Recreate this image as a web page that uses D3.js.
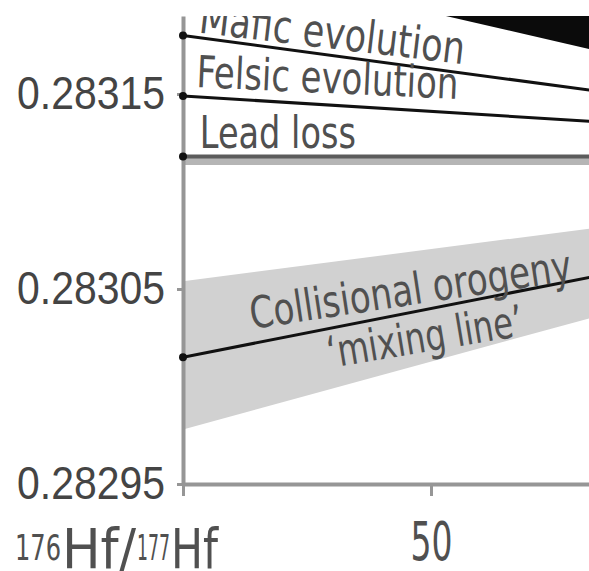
<!DOCTYPE html>
<html lang="en">
<head>
<meta charset="utf-8">
<title>Hf evolution</title>
<script src="https://d3js.org/d3.v7.min.js"></script>
<style>
  body { margin: 0; background: #fff; }
  svg { display: block; }
  .lbl { font-family: "Liberation Sans Narrow", "DejaVu Sans Condensed", "Liberation Sans", sans-serif; fill: #505050; }
</style>
</head>
<body>
<div id="chart"></div>
<script>
// ages (Ma) at the two ends of each trend
var ages = [0, 82];
var maficEvolution = [0.283180, 0.283152];
var felsicEvolution = [0.283149, 0.283136];
var leadLoss = [0.283118, 0.283118];
var mixingLine = [0.283015, 0.283056];
var mixingBandTop = [0.283054, 0.283081];
var mixingBandBottom = [0.282978, 0.283035];
// steep trend cut by the top of the frame
var steepAges = [53, 82];
var steepLower = [0.28319, 0.283173];

var xTicks = [0, 50];
var xTickLabels = ["", "50"];
var yTicks = [0.28295, 0.28305, 0.28315];
var yTickLabels = ["0.28295", "0.28305", "0.28315"];

var margin = {top: 16, right: 0, bottom: 87, left: 183},
    width = 589 - margin.left - margin.right,
    height = 571 - margin.top - margin.bottom;

var svg = d3.select("#chart")
  .append("svg")
    .attr("width", 589)
    .attr("height", 571)
  .append("g")
    .attr("transform", "translate(" + margin.left + "," + margin.top + ")");

var x = d3.scaleLinear().domain([0, 81.85]).range([0, width]);
var y = d3.scaleLinear().domain([0.28295, 0.28319]).range([height, 0]);

svg.append("clipPath").attr("id", "plot")
  .append("rect").attr("x", 0).attr("y", 0).attr("width", width).attr("height", height);

var plot = svg.append("g").attr("clip-path", "url(#plot)");

function pts(vals, xs) {
  xs = xs || ages;
  return vals.map(function(v, i) { return [xs[i], v]; });
}
var line = d3.line().x(function(d) { return x(d[0]); }).y(function(d) { return y(d[1]); });

// grey uncertainty band of the mixing line
plot.append("path")
  .datum(ages.map(function(a, i) { return {a: a, lo: mixingBandBottom[i], hi: mixingBandTop[i]}; }))
  .attr("d", d3.area()
    .x(function(d) { return x(d.a); })
    .y0(function(d) { return y(d.lo); })
    .y1(function(d) { return y(d.hi); }))
  .attr("fill", "#d1d1d1");

// black wedge top right
plot.append("path")
  .datum(steepAges.map(function(a, i) { return {a: a, lo: steepLower[i]}; }))
  .attr("d", d3.area()
    .x(function(d) { return x(d.a); })
    .y0(function(d) { return y(d.lo); })
    .y1(function(d) { return y(0.2832); }))
  .attr("fill", "#0b0b0b");

// lead loss: dark line with a lighter shadow underneath
plot.append("path").datum(pts(leadLoss)).attr("d", line)
  .attr("transform", "translate(0,5)")
  .attr("fill", "none").attr("stroke", "#b5b5b5").attr("stroke-width", 7);
plot.append("path").datum(pts(leadLoss)).attr("d", line)
  .attr("fill", "none").attr("stroke", "#5c5c5c").attr("stroke-width", 4);

[maficEvolution, felsicEvolution, mixingLine].forEach(function(s) {
  plot.append("path").datum(pts(s)).attr("d", line)
    .attr("fill", "none").attr("stroke", "#111").attr("stroke-width", 3);
});

// labels
function label(txt, a, v, angle, len, size) {
  plot.append("text").attr("class", "lbl")
    .attr("transform", "translate(" + x(a) + "," + y(v) + ") rotate(" + angle + ")")
    .attr("font-size", size)
    .attr("textLength", len)
    .attr("lengthAdjust", "spacingAndGlyphs")
    .text(txt);
}
label("Mafic evolution", 3.0, 0.2831815, 6.8, 267, 45);
label("Felsic evolution", 2.6, 0.2831536, 2.6, 262, 44);
label("Lead loss", 3.4, 0.2831223, 0, 156, 44);
label("Collisional orogeny", 13.9, 0.2830295, -8.6, 325, 44);
label("\u2018mixing line\u2019", 29.6, 0.2830095, -9.5, 198, 44);

// Y axis
var yAxis = svg.append("g")
  .call(d3.axisLeft(y).tickValues(yTicks).tickSize(6).tickSizeOuter(0).tickPadding(12)
    .tickFormat(function(d, i) { return yTickLabels[i]; }));
yAxis.select(".domain").attr("stroke", "#969696").attr("stroke-width", 4);
yAxis.selectAll(".tick line").attr("stroke", "#969696").attr("stroke-width", 3);
yAxis.selectAll(".tick text")
  .attr("font-family", "'Liberation Sans', Arial, sans-serif")
  .attr("font-size", 46)
  .attr("fill", "#444")
  .attr("textLength", 148)
  .attr("lengthAdjust", "spacingAndGlyphs");

// X axis
var xAxis = svg.append("g")
  .attr("transform", "translate(0," + height + ")")
  .call(d3.axisBottom(x).tickValues(xTicks).tickSize(12).tickSizeOuter(0).tickPadding(26)
    .tickFormat(function(d, i) { return xTickLabels[i]; }));
xAxis.select(".domain").attr("stroke", "#969696").attr("stroke-width", 4);
xAxis.selectAll(".tick line").attr("stroke", "#969696").attr("stroke-width", 3);
xAxis.selectAll(".tick text")
  .attr("class", "lbl")
  .attr("font-size", 54)
  .attr("fill", "#444")
  .attr("textLength", function(d, i) { return xTickLabels[i] ? 42 : null; })
  .attr("lengthAdjust", "spacingAndGlyphs");

// end dots on the y axis
svg.selectAll(".dot")
  .data([maficEvolution[0], felsicEvolution[0], leadLoss[0], mixingLine[0]])
  .enter().append("circle")
    .attr("cx", x(0))
    .attr("cy", function(d) { return y(d); })
    .attr("r", 4)
    .attr("fill", "#111");

// axis title 176Hf/177Hf
var title = svg.append("text").attr("class", "lbl")
  .attr("y", 568 - margin.top)
  .attr("fill", "#444");
title.append("tspan").attr("x", 15 - margin.left).attr("dy", -8).attr("font-size", 36)
  .attr("textLength", 46).attr("lengthAdjust", "spacingAndGlyphs").text("176");
title.append("tspan").attr("x", 62 - margin.left).attr("dy", 8).attr("font-size", 56)
  .attr("textLength", 74).attr("lengthAdjust", "spacingAndGlyphs").text("Hf/");
title.append("tspan").attr("x", 137 - margin.left).attr("dy", -8).attr("font-size", 36)
  .attr("textLength", 33).attr("lengthAdjust", "spacingAndGlyphs").text("177");
title.append("tspan").attr("x", 171 - margin.left).attr("dy", 8).attr("font-size", 56)
  .attr("textLength", 47).attr("lengthAdjust", "spacingAndGlyphs").text("Hf");
</script>
</body>
</html>
